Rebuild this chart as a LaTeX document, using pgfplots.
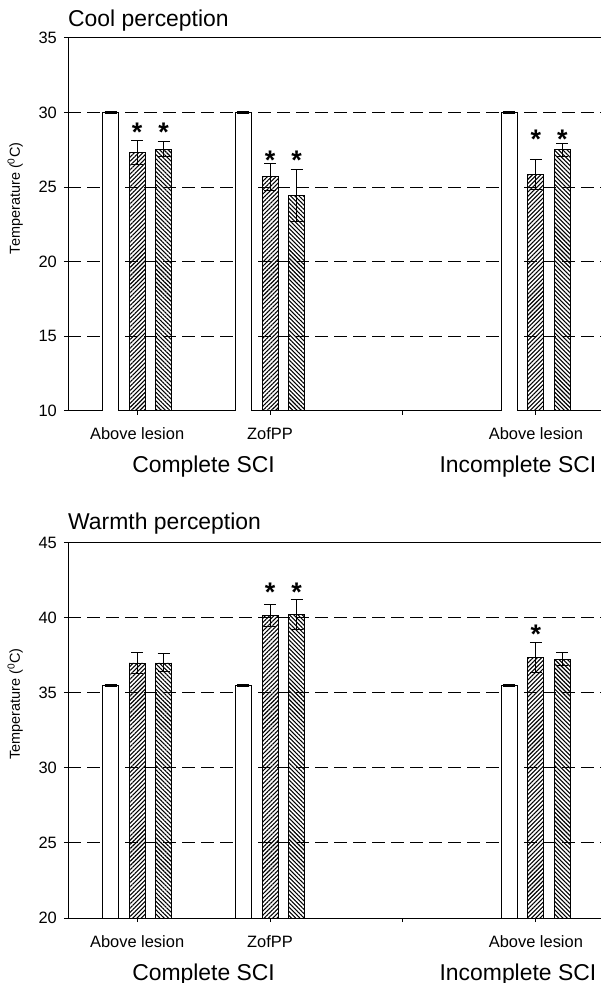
\documentclass[border=0pt]{standalone}
\usepackage{fontspec}
\setmainfont{Liberation Sans}
\usepackage{pgfplots}
\pgfplotsset{compat=1.18}
\usetikzlibrary{patterns.meta}
\begin{document}
\begin{tikzpicture}
\useasboundingbox (0,0) rectangle (601bp,983bp);
\pgfplotsset{
  panel/.style={
    scale only axis, width=533bp,
    xmin=-0.52, xmax=3.49,
    xtick={0,1,2,3}, xticklabels={Above lesion,ZofPP,,Above lesion},
    ytick distance=5,
    tick align=outside, major tick length=4bp,
    xtick pos=bottom, ytick pos=left,
    ymajorgrids, grid style={black, line width=1bp, dash pattern=on 13bp off 6bp},
    axis line style={line width=1bp},
    every tick/.style={black, line width=1bp},
    /pgf/number format/assume math mode=true,
    yticklabel style={font=\fontsize{16.5}{19}\selectfont, inner sep=0pt, xshift=-7bp},
    xticklabel style={font=\fontsize{16.5}{19}\selectfont, anchor=base, yshift=-25bp},
    ylabel={Temperature (\textsuperscript{0}C)},
    every axis y label/.style={at={(axis description cs:-0.078,0.57)}, rotate=90, anchor=south, font=\fontsize{14.5}{17}\selectfont},
    clip mode=individual,
  },
  bars/.style={ybar, bar width=16bp, bar shift=0pt, draw=black, line width=0.8bp,
    error bars/.cd, y dir=both, y explicit,
    error bar style={line width=1bp, black},
    error mark options={rotate=90, mark size=6bp, line width=1bp, black}},
  wbar/.style={fill=white, bars},
  h1bar/.style={pattern={Lines[angle=45, distance=3bp, line width=1.1bp]}, pattern color=black, bars},
  h2bar/.style={pattern={Lines[angle=-45, distance=3bp, line width=1.1bp]}, pattern color=black, bars},
  ast/.style={draw=none, mark=none, nodes near coords={*},
    every node near coord/.append style={font=\bfseries\fontsize{27}{30}\selectfont, anchor=base, yshift=-15.5bp, inner sep=0pt}},
}
% ---------- Cool perception ----------
\begin{axis}[panel, at={(68bp,572bp)}, anchor=south west, height=373bp, ymin=10, ymax=35]
\addplot[wbar] table[x=x, y=y, y error=e] {
x y e
-0.2 30 0.08
0.8 30 0.08
2.8 30 0.08
};
\addplot[h1bar] table[x=x, y=y, y error=e] {
x y e
0 27.3 0.8
1 25.7 0.9
3 25.85 1.0
};
\addplot[h2bar] table[x=x, y=y, y error=e] {
x y e
0.2 27.55 0.5
1.2 24.45 1.75
3.2 27.5 0.45
};
\addplot[ast] coordinates {(0,29.12) (0.2,29.12) (1,27.25) (1.2,27.25) (3,28.65) (3.2,28.65)};
\node[anchor=base west, inner sep=0pt, yshift=11bp, font=\fontsize{23}{27}\selectfont] at (rel axis cs:0,1) {Cool perception};
\node[anchor=base, inner sep=0pt, yshift=-62bp, font=\fontsize{23}{27}\selectfont] at (axis cs:0.5,10) {Complete SCI};
\node[anchor=base, inner sep=0pt, yshift=-62bp, font=\fontsize{23}{27}\selectfont] at (axis cs:2.865,10) {Incomplete SCI};
\end{axis}
% ---------- Warmth perception ----------
\begin{axis}[panel, at={(68bp,65bp)}, anchor=south west, height=375bp, ymin=20, ymax=45]
\addplot[wbar] table[x=x, y=y, y error=e] {
x y e
-0.2 35.5 0.08
0.8 35.5 0.08
2.8 35.5 0.08
};
\addplot[h1bar] table[x=x, y=y, y error=e] {
x y e
0 37.0 0.7
1 40.15 0.75
3 37.35 1.0
};
\addplot[h2bar] table[x=x, y=y, y error=e] {
x y e
0.2 37.0 0.6
1.2 40.25 1.0
3.2 37.25 0.45
};
\addplot[ast] coordinates {(1,42.13) (1.2,42.13) (3,39.31)};
\node[anchor=base west, inner sep=0pt, yshift=13bp, font=\fontsize{23}{27}\selectfont] at (rel axis cs:0,1) {Warmth perception};
\node[anchor=base, inner sep=0pt, yshift=-62bp, font=\fontsize{23}{27}\selectfont] at (axis cs:0.5,20) {Complete SCI};
\node[anchor=base, inner sep=0pt, yshift=-62bp, font=\fontsize{23}{27}\selectfont] at (axis cs:2.865,20) {Incomplete SCI};
\end{axis}
\end{tikzpicture}
\end{document}
